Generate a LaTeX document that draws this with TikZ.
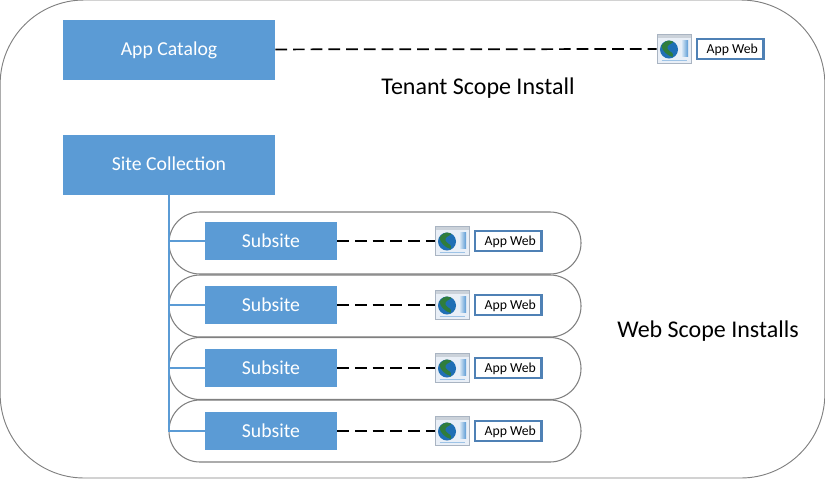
\documentclass[tikz,border=0pt]{standalone}
\usepackage{fontspec}
\setmainfont{Carlito}
\usepackage{xcolor}
\usetikzlibrary{positioning,calc}
\definecolor{boxblue}{HTML}{5B9BD5}
\definecolor{labelblue}{HTML}{4F81B5}
\definecolor{pillgrey}{HTML}{808080}
\definecolor{globeblue}{HTML}{1F6FB5}
\definecolor{globegreen}{HTML}{2F7D3C}
\definecolor{iconline}{HTML}{A9B4C2}
\definecolor{iconfill}{HTML}{E9EFF7}

\newcommand{\webicon}[2]{%
  \node[iconframe, at={#2}] (#1) {};
  \fill[iconline!60] ($(#1.north west)+(1,1)$) rectangle ($(#1.north east)+(-1,4)$);
  \shade[left color=boxblue!15, right color=boxblue] ($(#1.center)+(6.5,-9)$) rectangle ($(#1.center)+(13.5,7)$);
  \draw[boxblue!60, line width=0.8pt] ($(#1.south west)+(5,-4)$) -- ($(#1.south east)+(-5,-4)$);
  \fill[globeblue] ($(#1.center)+(-5.5,0.5)$) circle (9);
  \fill[globegreen] ($(#1.center)+(-13,-3)$) .. controls ($(#1.center)+(-9,-10)$) and ($(#1.center)+(-4,-9)$) .. ($(#1.center)+(-1,-7)$) .. controls ($(#1.center)+(-4,-4)$) and ($(#1.center)+(-8,-5)$) .. ($(#1.center)+(-7,0)$) .. controls ($(#1.center)+(-4,4)$) and ($(#1.center)+(0,3)$) .. ($(#1.center)+(-2,8)$) .. controls ($(#1.center)+(-8,6)$) and ($(#1.center)+(-12,2)$) .. cycle;
}

\begin{document}
\begin{tikzpicture}[
    x=0.75pt, y=-0.75pt,
    outerbox/.style={rectangle, draw=pillgrey, line width=0.7pt, rounded corners=63pt, minimum width=618.5pt, minimum height=358.5pt, inner sep=0pt},
    pill/.style={rectangle, draw=pillgrey, line width=0.8pt, rounded corners=23.2pt, minimum width=309pt, minimum height=46.5pt, inner sep=0pt},
    bigbox/.style={rectangle, fill=boxblue, text=white, minimum width=159pt, minimum height=45pt, inner sep=0pt, text height=10.5pt, text depth=2pt, font=\fontsize{14.8pt}{16pt}\selectfont},
    subbox/.style={rectangle, fill=boxblue, text=white, minimum width=99pt, minimum height=29pt, inner sep=0pt, font=\fontsize{14.8pt}{16pt}\selectfont},
    iconframe/.style={rectangle, draw=iconline, fill=iconfill, line width=0.8pt, minimum width=26pt, minimum height=22pt, inner sep=0pt},
    appweb/.style={rectangle, draw=labelblue, fill=white, line width=1.8pt, minimum width=50pt, minimum height=15pt, inner sep=0pt, text height=7.7pt, text depth=1.5pt, font=\fontsize{10.3pt}{12pt}\selectfont},
    caption/.style={font=\fontsize{18pt}{21pt}\selectfont},
    trunk/.style={draw=boxblue, line width=1.5pt},
    dashlink/.style={draw=black, line width=1.3pt, dash pattern=on 8.8pt off 4.5pt}
]
\useasboundingbox (0,0) rectangle (825,480);

% Outer frame
\node[outerbox] (frame) at (412.5,239) {};

% Tenant scope
\node[bigbox] (catalog) at (169,49.5) {App Catalog};
\webicon{tenanticon}{(674.5,49)}
\node[appweb, right=2.5pt of tenanticon] (tenantweb) {\hspace*{3pt}App Web};
\draw[dashlink] (catalog) -- (tenanticon);
\node[caption] (tenantlabel) at (478,88) {Tenant Scope Install};

% Site collection
\node[bigbox] (site) at (169,164.5) {Site Collection};

% Web scope rows
\foreach \i/\ypos/\ysub in {1/243/241, 2/306/305, 3/368.5/368, 4/431/431} {
  \node[pill] (pill\i) at (375,\ypos) {};
  \node[subbox] (sub\i) at (271,\ysub) {Subsite};
  \webicon{icon\i}{(452.5,\ysub)}
  \node[appweb, right=2.5pt of icon\i] (web\i) {\hspace*{3pt}App Web};
  \draw[dashlink] (sub\i) -- (icon\i);
  \draw[trunk] (site) |- (sub\i);
}

\node[caption] (weblabel) at (708,331) {Web Scope Installs};

\end{tikzpicture}
\end{document}
